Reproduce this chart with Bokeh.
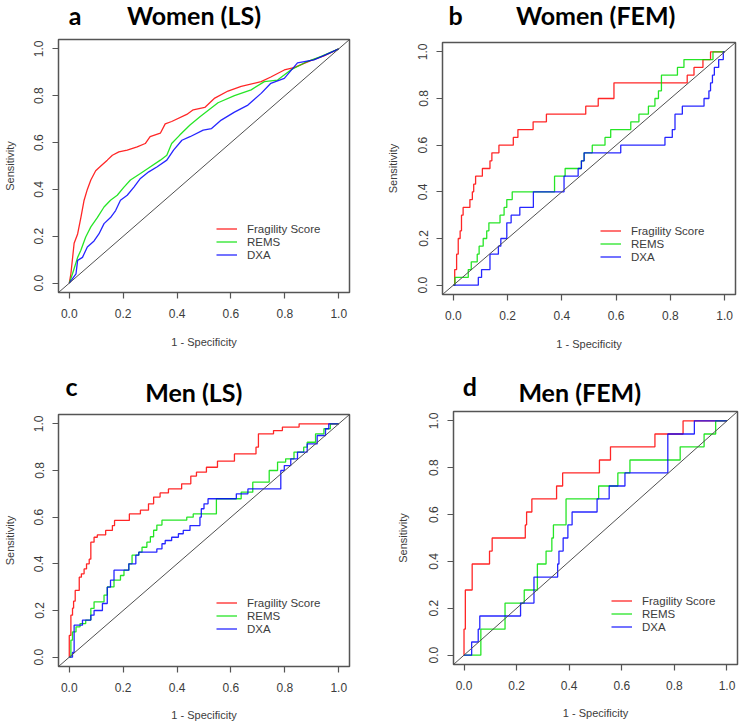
from bokeh.plotting import figure
from bokeh.models import Range1d, FixedTicker, Slope, Legend, LegendItem, Label
from bokeh.layouts import column, row
from bokeh.embed import file_html
from bokeh.resources import INLINE

# ---------------- data ----------------
tick_values = [0.0, 0.2, 0.4, 0.6, 0.8, 1.0]
tick_labels = ["0.0", "0.2", "0.4", "0.6", "0.8", "1.0"]
series_names = ["Fragility Score", "REMS", "DXA"]
series_colors = ["#ff0000", "#00e000", "#0000ff"]

panel_letters = ["a", "b", "c", "d"]
panel_titles = ["Women (LS)", "Women (FEM)", "Men (LS)", "Men (FEM)"]

a_frag_x = [0, 0.006, 0.018, 0.031, 0.043, 0.055, 0.067, 0.08, 0.098, 0.117, 0.141, 0.16, 0.184, 0.215, 0.252, 0.282, 0.30, 0.338, 0.356, 0.38, 0.436, 0.46, 0.503, 0.54, 0.589, 0.638, 0.712, 0.748, 0.798, 0.834, 0.896, 0.945, 1.0]
a_frag_y = [0, 0.04, 0.17, 0.21, 0.28, 0.354, 0.40, 0.44, 0.48, 0.50, 0.525, 0.546, 0.56, 0.568, 0.582, 0.596, 0.625, 0.64, 0.68, 0.69, 0.72, 0.74, 0.75, 0.79, 0.82, 0.84, 0.86, 0.88, 0.91, 0.92, 0.95, 0.97, 1.0]
a_rems_x = [0, 0.012, 0.031, 0.043, 0.061, 0.08, 0.104, 0.129, 0.153, 0.178, 0.203, 0.227, 0.264, 0.30, 0.338, 0.362, 0.38, 0.41, 0.448, 0.485, 0.552, 0.613, 0.675, 0.724, 0.773, 0.822, 0.883, 0.933, 1.0]
a_rems_y = [0, 0.04, 0.11, 0.14, 0.197, 0.24, 0.28, 0.325, 0.354, 0.375, 0.41, 0.44, 0.468, 0.496, 0.525, 0.546, 0.596, 0.632, 0.675, 0.71, 0.77, 0.80, 0.825, 0.86, 0.867, 0.91, 0.946, 0.967, 1.0]
a_dxa_x = [0, 0.025, 0.031, 0.049, 0.067, 0.092, 0.11, 0.129, 0.153, 0.172, 0.19, 0.215, 0.24, 0.264, 0.295, 0.325, 0.362, 0.387, 0.418, 0.448, 0.497, 0.528, 0.564, 0.613, 0.663, 0.712, 0.748, 0.798, 0.847, 0.908, 0.951, 1.0]
a_dxa_y = [0, 0.04, 0.097, 0.11, 0.154, 0.18, 0.21, 0.254, 0.28, 0.31, 0.354, 0.375, 0.41, 0.447, 0.475, 0.496, 0.525, 0.568, 0.61, 0.625, 0.653, 0.66, 0.696, 0.73, 0.76, 0.81, 0.853, 0.874, 0.94, 0.953, 0.974, 1.0]

b_frag_x = [0, 0.005, 0.012, 0.018, 0.025, 0.03, 0.036, 0.061, 0.07, 0.075, 0.082, 0.107, 0.135, 0.142, 0.168, 0.221, 0.238, 0.294, 0.343, 0.488, 0.534, 0.592, 0.862, 0.887, 0.92, 0.948, 1.0]
b_frag_y = [0, 0.067, 0.133, 0.2, 0.233, 0.3, 0.333, 0.367, 0.4, 0.433, 0.467, 0.5, 0.533, 0.567, 0.6, 0.633, 0.667, 0.7, 0.733, 0.767, 0.8, 0.867, 0.9, 0.933, 0.967, 1.0, 1.0]
b_rems_x = [0, 0.006, 0.055, 0.066, 0.088, 0.095, 0.11, 0.123, 0.131, 0.172, 0.187, 0.197, 0.217, 0.373, 0.412, 0.472, 0.482, 0.512, 0.559, 0.58, 0.654, 0.684, 0.719, 0.743, 0.756, 0.767, 0.826, 0.85, 0.957, 1.0]
b_rems_y = [0, 0.033, 0.067, 0.1, 0.133, 0.167, 0.2, 0.233, 0.267, 0.3, 0.333, 0.367, 0.4, 0.467, 0.5, 0.533, 0.567, 0.6, 0.633, 0.667, 0.7, 0.733, 0.767, 0.8, 0.833, 0.9, 0.933, 0.967, 1.0, 1.0]
b_dxa_x = [0, 0.092, 0.104, 0.135, 0.166, 0.175, 0.197, 0.213, 0.245, 0.295, 0.408, 0.46, 0.472, 0.482, 0.617, 0.78, 0.807, 0.817, 0.844, 0.924, 0.942, 0.948, 0.955, 0.962, 0.978, 0.995, 1.0]
b_dxa_y = [0, 0.033, 0.067, 0.133, 0.167, 0.2, 0.267, 0.3, 0.333, 0.4, 0.467, 0.5, 0.533, 0.567, 0.6, 0.633, 0.667, 0.733, 0.767, 0.8, 0.833, 0.867, 0.9, 0.933, 0.967, 1.0, 1.0]

c_frag_x = [0, 0, 0.006, 0.012, 0.016, 0.022, 0.037, 0.045, 0.055, 0.064, 0.074, 0.08, 0.092, 0.104, 0.135, 0.16, 0.168, 0.223, 0.264, 0.294, 0.313, 0.337, 0.368, 0.417, 0.451, 0.472, 0.509, 0.55, 0.613, 0.693, 0.702, 0.758, 0.791, 0.853, 1.0]
c_frag_y = [0, 0.093, 0.18, 0.21, 0.24, 0.286, 0.343, 0.357, 0.378, 0.40, 0.42, 0.493, 0.514, 0.524, 0.543, 0.564, 0.586, 0.614, 0.63, 0.657, 0.686, 0.704, 0.721, 0.743, 0.776, 0.793, 0.814, 0.84, 0.871, 0.90, 0.957, 0.971, 0.986, 1.0, 1.0]
c_rems_x = [0, 0.006, 0.012, 0.025, 0.04, 0.061, 0.08, 0.092, 0.129, 0.141, 0.166, 0.19, 0.203, 0.221, 0.233, 0.258, 0.27, 0.288, 0.301, 0.313, 0.325, 0.344, 0.436, 0.46, 0.546, 0.638, 0.681, 0.742, 0.773, 0.803, 0.834, 0.87, 0.883, 0.914, 0.945, 0.969, 1.0]
c_rems_y = [0, 0.073, 0.108, 0.13, 0.144, 0.159, 0.209, 0.237, 0.266, 0.301, 0.33, 0.35, 0.373, 0.40, 0.437, 0.45, 0.471, 0.493, 0.516, 0.544, 0.566, 0.587, 0.60, 0.614, 0.679, 0.707, 0.75, 0.80, 0.836, 0.85, 0.879, 0.90, 0.921, 0.957, 0.979, 1.0, 1.0]
c_dxa_x = [0, 0.012, 0.018, 0.049, 0.08, 0.092, 0.123, 0.141, 0.153, 0.166, 0.221, 0.247, 0.258, 0.325, 0.344, 0.356, 0.38, 0.405, 0.423, 0.448, 0.485, 0.49, 0.50, 0.515, 0.62, 0.663, 0.785, 0.798, 0.822, 0.847, 0.883, 0.92, 0.951, 0.963, 1.0]
c_dxa_y = [0, 0.02, 0.137, 0.159, 0.18, 0.20, 0.23, 0.30, 0.33, 0.373, 0.40, 0.437, 0.45, 0.464, 0.486, 0.50, 0.514, 0.529, 0.543, 0.564, 0.60, 0.636, 0.657, 0.679, 0.70, 0.721, 0.80, 0.821, 0.85, 0.879, 0.914, 0.95, 0.979, 1.0, 1.0]

d_frag_x = [0, 0, 0.005, 0.031, 0.097, 0.107, 0.233, 0.238, 0.258, 0.352, 0.375, 0.515, 0.557, 0.726, 0.833, 1.0]
d_frag_y = [0, 0.111, 0.278, 0.389, 0.444, 0.50, 0.556, 0.611, 0.667, 0.722, 0.778, 0.833, 0.889, 0.944, 1.0, 1.0]
d_rems_x = [0, 0.064, 0.156, 0.229, 0.279, 0.312, 0.334, 0.34, 0.388, 0.512, 0.585, 0.631, 0.822, 0.913, 0.957, 1.0]
d_rems_y = [0, 0.111, 0.222, 0.278, 0.389, 0.444, 0.50, 0.556, 0.667, 0.722, 0.778, 0.833, 0.889, 0.944, 1.0, 1.0]
d_dxa_x = [0, 0.029, 0.054, 0.06, 0.215, 0.266, 0.356, 0.361, 0.377, 0.395, 0.411, 0.506, 0.552, 0.612, 0.775, 0.876, 1.0]
d_dxa_y = [0, 0.056, 0.111, 0.167, 0.222, 0.333, 0.389, 0.444, 0.50, 0.556, 0.611, 0.667, 0.722, 0.778, 0.944, 1.0, 1.0]

panel_data = [
    [(a_frag_x, a_frag_y), (a_rems_x, a_rems_y), (a_dxa_x, a_dxa_y)],
    [(b_frag_x, b_frag_y), (b_rems_x, b_rems_y), (b_dxa_x, b_dxa_y)],
    [(c_frag_x, c_frag_y), (c_rems_x, c_rems_y), (c_dxa_x, c_dxa_y)],
    [(d_frag_x, d_frag_y), (d_rems_x, d_rems_y), (d_dxa_x, d_dxa_y)],
]

# ---------------- layout / styles ----------------
# title strip height, plot width, plot height, borders L, R, T, B
panel_dims = [
    (31, 375, 331, 55, 26, 8, 70),
    (31, 374, 331, 67, 14, 11, 68),
    (46, 375, 316, 55, 26, 6, 58),
    (46, 374, 316, 78, 12, 3, 60),
]
# (letter x, letter y, title x, title y): centre of each text, px inside the title strip from its bottom-left
title_pos = [
    (74.7, 16.2, 193.5, 16.2),
    (80.0, 16.2, 220.2, 16.2),
    (71.0, 22.4, 193.3, 17.0),
    (94.3, 22.4, 204.2, 16.4),
]
ylabel_standoff = [16, 17, 16, 18]
xlabel_standoff = [15, 15, 14, 14]
step_style = [False, True, True, True]

AXIS_COLOR = "#555555"
TEXT_COLOR = "#3c3c3c"
AXIS_FONT = "Liberation Sans"
TITLE_FONT = "Lato"
TITLE_SIZE = "25px"


def make_title_strip(i, width):
    Ht = panel_dims[i][0]
    t = figure(width=width, height=Ht, x_axis_type=None, y_axis_type=None,
               output_backend="svg", toolbar_location=None,
               min_border_left=0, min_border_right=0, min_border_top=0, min_border_bottom=0,
               background_fill_color="white", border_fill_color="white")
    t.frame_align = False
    t.title.visible = False
    t.outline_line_color = None
    t.xgrid.visible = False
    t.ygrid.visible = False
    lx, ly, tx, ty = title_pos[i]
    for x, y, txt in ((lx, ly, panel_letters[i]), (tx, ty, panel_titles[i])):
        t.add_layout(Label(x=x, y=y, x_units="screen", y_units="screen", text=txt,
                           text_font=TITLE_FONT, text_font_style="bold", text_font_size=TITLE_SIZE,
                           text_align="center", text_baseline="middle", text_color="black"))
    return t


def make_panel(i):
    Ht, W, H, L, R, T, B = panel_dims[i]
    p = figure(width=W, height=H, x_range=Range1d(-0.04, 1.04), y_range=Range1d(-0.04, 1.04),
               output_backend="svg", toolbar_location=None,
               min_border_left=L, min_border_right=R, min_border_top=T, min_border_bottom=B,
               background_fill_color="white", border_fill_color="white")
    p.frame_align = False
    p.title.visible = False
    p.xgrid.visible = False
    p.ygrid.visible = False
    p.outline_line_color = AXIS_COLOR
    p.outline_line_width = 1.5

    for ax in (p.xaxis[0], p.yaxis[0]):
        ax.ticker = FixedTicker(ticks=tick_values)
        ax.major_label_overrides = {v: s for v, s in zip(tick_values, tick_labels)}
        ax.axis_line_color = None
        ax.major_tick_line_color = AXIS_COLOR
        ax.major_tick_line_width = 1.2
        ax.major_tick_out = 6
        ax.major_tick_in = 0
        ax.minor_tick_line_color = None
        ax.major_label_text_font = AXIS_FONT
        ax.major_label_text_font_size = "12px"
        ax.major_label_text_color = TEXT_COLOR
        ax.axis_label_text_font = AXIS_FONT
        ax.axis_label_text_font_size = "11px"
        ax.axis_label_text_font_style = "normal"
        ax.axis_label_text_color = TEXT_COLOR
    p.xaxis.axis_label = "1 - Specificity"
    p.yaxis.axis_label = "Sensitivity"
    p.xaxis.major_label_standoff = 10
    p.yaxis.major_label_standoff = 9
    p.yaxis.major_label_orientation = "parallel"
    p.xaxis.axis_label_standoff = xlabel_standoff[i]
    p.yaxis.axis_label_standoff = ylabel_standoff[i]

    p.add_layout(Slope(gradient=1, y_intercept=0, line_color="#505050", line_width=1))

    items = []
    for (xs, ys), name, col in zip(panel_data[i], series_names, series_colors):
        if step_style[i]:
            r = p.step(xs, ys, mode="after", line_color=col, line_width=1.3, line_alpha=0.85)
        else:
            r = p.line(xs, ys, line_color=col, line_width=1.3, line_alpha=0.85)
        items.append(LegendItem(label=name, renderers=[r]))

    leg = Legend(items=items, location=(158, 31), background_fill_alpha=0, border_line_color=None,
                 padding=0, margin=0, spacing=0, glyph_width=21, glyph_height=13, label_height=13,
                 label_standoff=10, label_text_font=AXIS_FONT, label_text_font_size="11.5px",
                 label_text_color=TEXT_COLOR, label_text_baseline="middle")
    p.add_layout(leg)
    return column(make_title_strip(i, W), p, spacing=0)


cells = [make_panel(i) for i in range(4)]
layout = column(row(cells[0], cells[1], spacing=0), row(cells[2], cells[3], spacing=0), spacing=0)

open("out.html", "w").write(file_html(layout, INLINE))
